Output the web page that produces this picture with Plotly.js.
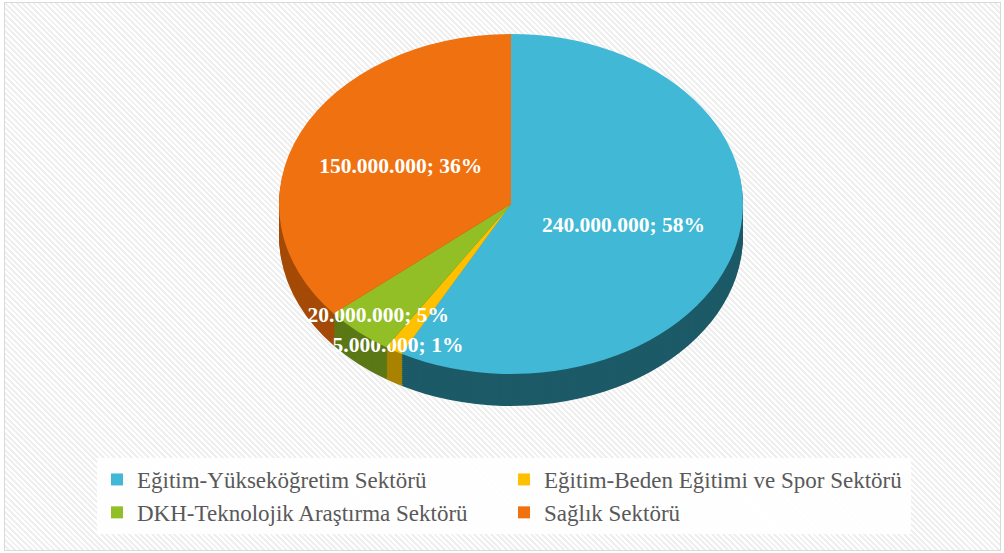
<!DOCTYPE html>
<html><head><meta charset="utf-8">
<script src="https://cdn.plot.ly/plotly-3.0.1.min.js"></script>
<style>
html,body{margin:0;padding:0;background:#fff;}
#wrap{position:relative;width:1004px;height:553px;overflow:hidden;}
#bg{position:absolute;left:4px;top:2px;width:995px;height:547px;border:1px solid #d9d9d9;
background:repeating-linear-gradient(45deg,#ffffff 0px,#ffffff 2px,#efefef 2px,#efefef 4px);}
#chart{position:absolute;left:0;top:0;width:1004px;height:553px;}
</style></head><body>
<div id="wrap"><div id="bg"></div><div id="chart"></div></div>
<script>
const categories = ['Eğitim-Yükseköğretim Sektörü','Eğitim-Beden Eğitimi ve Spor Sektörü','DKH-Teknolojik Araştırma Sektörü','Sağlık Sektörü'];
const values = [240000000, 5000000, 20000000, 150000000];
const topColors = ['#41B8D5','#FFC000','#92BE26','#EF7110'];
const sideColors = ['#1D5A68','#A98300','#5B7816','#A54B07'];

const W = 1004, H = 553;
// 3D-tilted look: pie radius (vertical), horizontal stretch, side depth
const cx = 511, cy = 204, r = 170, sx = 232 / 170, depth = 32;
function dom(offset){
  const top = cy - r + offset, bottom = cy + r + offset;
  return {x:[(cx - 300)/W, (cx + 300)/W], y:[1 - bottom/H, 1 - top/H]};
}
const traces = [];
for (let off = depth; off > 0; off -= 2) {
  traces.push({
    type:'pie', labels:categories, values:values, sort:false, direction:'clockwise', rotation:0,
    marker:{colors:sideColors, line:{width:0}}, textinfo:'none', hoverinfo:'skip',
    showlegend:false, domain:dom(off)
  });
}
traces.push({
  type:'pie', labels:categories, values:values, sort:false, direction:'clockwise', rotation:0,
  marker:{colors:topColors, line:{width:0}},
  texttemplate:'%{value:,.0f}; %{percent:.0%}',
  textposition:'inside', insidetextorientation:'horizontal',
  textfont:{family:'Liberation Serif, Times New Roman, serif', size:21.5, color:'#ffffff', weight:'bold'},
  hoverinfo:'label+value+percent', domain:dom(0)
});

const layout = {
  width:W, height:H, margin:{l:0,r:0,t:0,b:0},
  paper_bgcolor:'rgba(0,0,0,0)', plot_bgcolor:'rgba(0,0,0,0)',
  separators:',.',
  uniformtext:{mode:'show', minsize:21.5},
  showlegend:true,
  legend:{orientation:'h', x:97/W, xanchor:'left', y:1-496/H, yanchor:'middle',
    entrywidth:362, entrywidthmode:'pixels', bgcolor:'rgba(255,255,255,0.92)',
    font:{family:'Liberation Serif, Times New Roman, serif', size:23, color:'#595959'},
    traceorder:'normal'}
};
Plotly.newPlot('chart', traces, layout, {displayModeBar:false, staticPlot:true}).then(function(gd){
  const layer = gd.querySelector('.pielayer');
  if (!layer) return;
  layer.setAttribute('transform', 'translate(' + cx + ',0) scale(' + sx + ',1) translate(' + (-cx) + ',0)');
  layer.querySelectorAll('g.slicetext text').forEach(function(t){
    const tr = t.getAttribute('transform') || '';
    const i = tr.indexOf(')');
    if (tr.indexOf('translate') === 0 && i > 0) {
      t.setAttribute('transform', tr.slice(0, i + 1) + ' scale(' + (1/sx) + ',1) ' + tr.slice(i + 1));
    } else {
      t.setAttribute('transform', 'scale(' + (1/sx) + ',1) ' + tr);
    }
  });
});
</script>
</body></html>
